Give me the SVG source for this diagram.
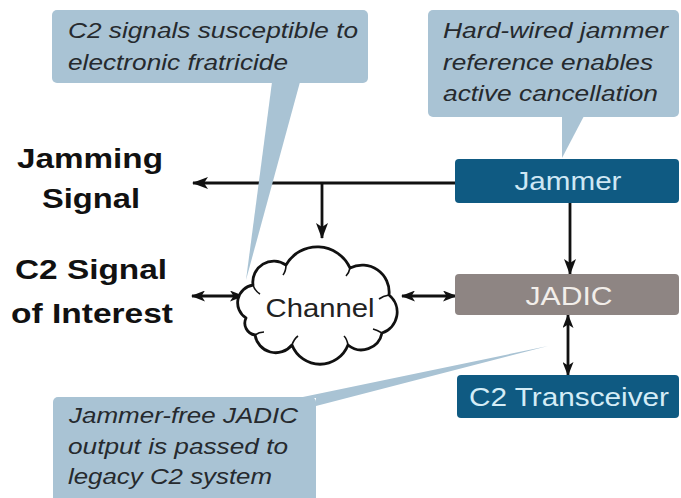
<svg xmlns="http://www.w3.org/2000/svg" width="681" height="498" viewBox="0 0 681 498">
<style>
.call{fill:#a9c3d4}
.ct{font-family:"Liberation Sans",Arial,sans-serif;font-style:italic;font-size:22px;fill:#262a2e}
.lbl{font-family:"Liberation Sans",Arial,sans-serif;font-weight:bold;font-size:28px;fill:#111}
.dark{fill:#0f5a82}
.gray{fill:#8e8583}
.nt{font-family:"Liberation Sans",Arial,sans-serif;font-size:26px;text-anchor:middle}
.conn{stroke:#111;stroke-width:2.8;fill:none}
.cloud{fill:#fff;stroke:#111;stroke-width:2.8;stroke-linejoin:round}
.curl{fill:none;stroke:#111;stroke-width:1.6}
</style>
<defs>
<marker id="ah" viewBox="0 0 16 12" refX="15" refY="6" markerWidth="16" markerHeight="12" markerUnits="userSpaceOnUse" orient="auto-start-reverse">
<path d="M0,0 L16,6 L0,12 L4,6 z" fill="#111"/>
</marker>
<marker id="ah2" viewBox="0 0 14 11" refX="13" refY="5.5" markerWidth="14" markerHeight="11" markerUnits="userSpaceOnUse" orient="auto-start-reverse">
<path d="M0,0 L14,5.5 L0,11 L3.5,5.5 z" fill="#111"/>
</marker>
</defs>
<rect width="681" height="498" fill="#fff"/>

<g id="label-jamming">
<text class="lbl" x="17" y="168" textLength="146" lengthAdjust="spacingAndGlyphs">Jamming</text>
<text class="lbl" x="42" y="208" textLength="98" lengthAdjust="spacingAndGlyphs">Signal</text>
</g>

<g id="label-c2">
<text class="lbl" x="15" y="279" textLength="152" lengthAdjust="spacingAndGlyphs">C2 Signal</text>
<text class="lbl" x="11" y="323" textLength="162" lengthAdjust="spacingAndGlyphs">of Interest</text>
</g>

<g id="connectors">
<line class="conn" x1="455" y1="183" x2="193" y2="183" marker-end="url(#ah)"/>
<line class="conn" x1="322" y1="183" x2="322" y2="238" marker-end="url(#ah)"/>
<line class="conn" x1="570" y1="203" x2="570" y2="274" marker-end="url(#ah)"/>
<line class="conn" x1="192" y1="296" x2="243" y2="296" marker-start="url(#ah2)" marker-end="url(#ah2)"/>
<line class="conn" x1="402" y1="296" x2="456" y2="296" marker-start="url(#ah2)" marker-end="url(#ah2)"/>
<line class="conn" x1="568" y1="315" x2="568" y2="375" marker-start="url(#ah2)" marker-end="url(#ah2)"/>
</g>

<g id="callout-fratricide">
<rect class="call" x="52" y="10" width="316" height="73" rx="5"/>
<polygon class="call" points="272,82 300,82 246,280"/>
<text class="ct" x="68" y="38" textLength="290" lengthAdjust="spacingAndGlyphs">C2 signals susceptible to</text>
<text class="ct" x="68" y="70" textLength="220" lengthAdjust="spacingAndGlyphs">electronic fratricide</text>
</g>

<g id="callout-reference">
<rect class="call" x="428" y="10" width="251" height="107" rx="5"/>
<polygon class="call" points="562,116 584,116 562,158"/>
<text class="ct" x="443" y="38" textLength="225" lengthAdjust="spacingAndGlyphs">Hard-wired jammer</text>
<text class="ct" x="443" y="70" textLength="210" lengthAdjust="spacingAndGlyphs">reference enables</text>
<text class="ct" x="443" y="101" textLength="215" lengthAdjust="spacingAndGlyphs">active cancellation</text>
</g>

<g id="callout-output">
<rect class="call" x="53" y="397" width="263" height="110" rx="5"/>
<polygon class="call" points="298,398 316,398 316,406 548,346"/>
<text class="ct" x="69" y="423" textLength="229" lengthAdjust="spacingAndGlyphs">Jammer-free JADIC</text>
<text class="ct" x="68" y="454" textLength="220" lengthAdjust="spacingAndGlyphs">output is passed to</text>
<text class="ct" x="68" y="484" textLength="204" lengthAdjust="spacingAndGlyphs">legacy C2 system</text>
</g>

<g id="channel">
<path class="cloud" d="M246,318 A18,18 0 0 1 253,285 A21,21 0 0 1 286,265 A36,36 0 0 1 350,268 A27,27 0 0 1 389,295 A22,22 0 0 1 382,333 A21,21 0 0 1 348,345 A30,30 0 0 1 292,345 A21,21 0 0 1 255,335 A12,12 0 0 1 246,318 Z"/>
<path class="curl" d="M253,285 q2,6 7,9"/>
<path class="curl" d="M286,265 q0,6 -3,10"/>
<path class="curl" d="M350,268 q-1,5 -4,8"/>
<path class="curl" d="M389,295 q-6,1 -10,4"/>
<path class="curl" d="M382,333 q-5,-3 -9,-4"/>
<path class="curl" d="M348,345 q-1,-6 -4,-9"/>
<path class="curl" d="M292,345 q2,-6 6,-9"/>
<path class="curl" d="M255,335 q4,-3 9,-3"/>
<text x="320" y="317" font-family="'Liberation Sans',Arial,sans-serif" font-size="26" fill="#222" text-anchor="middle" textLength="109" lengthAdjust="spacingAndGlyphs">Channel</text>
</g>

<g id="jammer">
<rect class="dark" x="455" y="159" width="224" height="44" rx="4"/>
<text class="nt" x="568" y="190" fill="#cfe7f4" textLength="107" lengthAdjust="spacingAndGlyphs">Jammer</text>
</g>

<g id="jadic">
<rect class="gray" x="455" y="274" width="224" height="41" rx="4"/>
<text class="nt" x="569" y="305" fill="#f2eeea" textLength="87" lengthAdjust="spacingAndGlyphs">JADIC</text>
</g>

<g id="c2-transceiver">
<rect class="dark" x="457" y="375" width="222" height="43" rx="4"/>
<text class="nt" x="569" y="406" fill="#d4ecf6" textLength="200" lengthAdjust="spacingAndGlyphs">C2 Transceiver</text>
</g>
</svg>
